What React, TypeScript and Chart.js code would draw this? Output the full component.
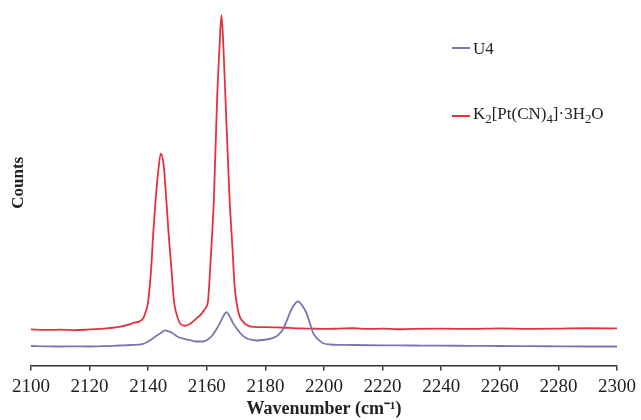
import React, { useEffect, useRef } from "react";
import { Chart, registerables } from "chart.js";

Chart.register(...registerables);

// X-axis tick labels (cm^-1)
const xTicks = [2100, 2120, 2140, 2160, 2180, 2200, 2220, 2240, 2260, 2280, 2300];

// K2[Pt(CN)4]·3H2O spectrum (red)
const redWavenumbers = [
  2100, 2105, 2110, 2115, 2120, 2125, 2130, 2133, 2135, 2137, 2138.3, 2139.2, 2140, 2141, 2141.7,
  2142.5, 2143.3, 2144.3, 2145.3, 2146.2, 2147, 2147.9, 2148.8, 2149.8, 2150.8, 2152.5, 2154.5,
  2156.5, 2158, 2158.9, 2159.7, 2160.4, 2161.4, 2162.4, 2163.5, 2164.3, 2165, 2165.7, 2166.4,
  2167.8, 2168.7, 2169.5, 2170.1, 2171.2, 2172.3, 2173.5, 2176, 2180, 2184, 2188, 2192, 2196,
  2200, 2205, 2210, 2215, 2220, 2225, 2230, 2240, 2250, 2260, 2270, 2280, 2290, 2300,
];
const redCounts = [
  360, 355, 358, 352, 360, 368, 385, 405, 425, 440, 470, 540, 640, 960, 1310,
  1640, 1900, 2110, 1990, 1640, 1300, 970, 640, 500, 423, 397, 420,
  470, 510, 545, 580, 640, 1100, 1640, 2640, 3150, 3490, 3150, 2640,
  1640, 1200, 790, 640, 490, 440, 407, 385, 383, 380, 375, 370, 368,
  365, 368, 372, 365, 368, 362, 366, 368, 365, 370, 366, 368, 372, 370,
];

// U4 spectrum (blue)
const blueWavenumbers = [
  2100, 2105, 2110, 2115, 2120, 2125, 2130, 2134, 2138.3, 2140, 2141.7, 2143, 2144.3, 2145.7,
  2147, 2148.2, 2149.9, 2152, 2154, 2156.5, 2158.7, 2160.5, 2162, 2163.2, 2164.6, 2165.8, 2166.7,
  2167.8, 2169, 2170.1, 2171.8, 2173.5, 2175, 2176.9, 2179, 2182.4, 2184.4, 2185.9, 2187.2,
  2188.3, 2189.7, 2191.1, 2192.5, 2194, 2195.2, 2196.3, 2198, 2199.7, 2202, 2206, 2210, 2220,
  2230, 2240, 2250, 2260, 2270, 2280, 2290, 2300,
];
const blueCounts = [
  195, 192, 190, 192, 190, 193, 200, 205, 217, 240, 273, 300, 325, 350,
  340, 325, 290, 268, 255, 240, 240, 262, 305, 357, 430, 500, 533,
  490, 420, 373, 310, 273, 258, 250, 255, 273, 305, 357, 440,
  523, 600, 640, 600, 523, 420, 323, 260, 223, 210, 207, 205, 202,
  200, 198, 197, 195, 194, 192, 190, 190,
];

const toPoints = (xs: number[], ys: number[]) => xs.map((x, i) => ({ x, y: ys[i] }));

const RED = "#e3323b";
const BLUE = "#7777b0";
const FONT = "'Liberation Serif', 'Times New Roman', serif";

export default function App() {
  const canvasRef = useRef<HTMLCanvasElement | null>(null);

  useEffect(() => {
    if (!canvasRef.current) return;
    const chart = new Chart(canvasRef.current, {
      type: "line",
      data: {
        datasets: [
          {
            label: "U4",
            data: toPoints(blueWavenumbers, blueCounts),
            borderColor: BLUE,
            borderWidth: 1.8,
            pointRadius: 0,
            cubicInterpolationMode: "monotone",
            fill: false,
          },
          {
            label: "K2[Pt(CN)4]·3H2O",
            data: toPoints(redWavenumbers, redCounts),
            borderColor: RED,
            borderWidth: 1.8,
            pointRadius: 0,
            cubicInterpolationMode: "monotone",
            fill: false,
          },
        ],
      },
      options: {
        animation: false,
        responsive: false,
        devicePixelRatio: 1,
        layout: { padding: { left: 2.6, right: 23, top: 0, bottom: 0 } },
        plugins: {
          legend: { display: false },
          tooltip: { enabled: false },
        },
        scales: {
          x: {
            type: "linear",
            min: xTicks[0],
            max: xTicks[xTicks.length - 1],
            afterBuildTicks: (axis: any) => {
              axis.ticks = xTicks.map((v) => ({ value: v }));
            },
            ticks: {
              callback: (v: any) => String(v),
              font: { family: FONT, size: 19 },
              color: "#222",
              padding: 5,
              maxRotation: 0,
              autoSkip: false,
            },
            grid: {
              display: true,
              drawOnChartArea: false,
              drawTicks: true,
              tickLength: 5,
              color: "#333",
              lineWidth: 1.5,
            },
            border: { display: true, color: "#333", width: 1.5 },
            title: {
              display: true,
              text: "Wavenumber (cm⁻¹)",
              font: { family: FONT, size: 18, weight: "bold" },
              color: "#222",
              padding: { top: -5, bottom: 0 },
            },
          },
          y: {
            min: 0,
            max: 3640,
            ticks: { display: false },
            grid: { display: false, drawTicks: false },
            border: { display: false },
            title: {
              display: true,
              text: "Counts",
              font: { family: FONT, size: 17, weight: "bold" },
              color: "#222",
              padding: { top: 6, bottom: 2 },
            },
          },
        },
      },
    });
    return () => chart.destroy();
  }, []);

  const sub: React.CSSProperties = {
    fontSize: "0.75em",
    position: "relative",
    top: "0.3em",
    lineHeight: 0,
  };
  const legendText: React.CSSProperties = {
    position: "absolute",
    left: 473,
    fontFamily: FONT,
    fontSize: 17,
    color: "#222",
    lineHeight: "20px",
    whiteSpace: "nowrap",
  };

  return (
    <div style={{ position: "fixed", left: 0, top: 0, width: 641, height: 420, background: "#fff" }}>
      <canvas ref={canvasRef} width={641} height={420} style={{ display: "block" }} />
      <div style={{ position: "absolute", left: 452, top: 47, width: 18, height: 2, background: BLUE }} />
      <div style={{ ...legendText, top: 39 }}>U4</div>
      <div style={{ position: "absolute", left: 452, top: 115, width: 18, height: 2, background: RED }} />
      <div style={{ ...legendText, top: 104 }}>
        K<span style={sub}>2</span>[Pt(CN)<span style={sub}>4</span>]·3H<span style={sub}>2</span>O
      </div>
    </div>
  );
}
